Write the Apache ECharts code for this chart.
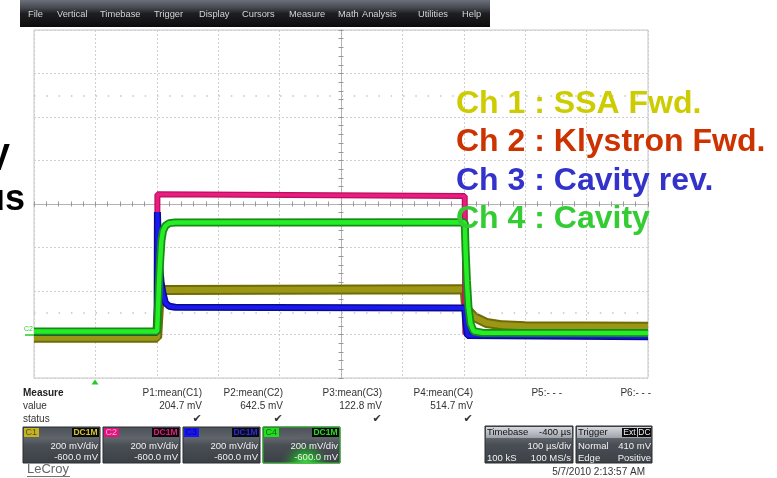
<!DOCTYPE html>
<html><head><meta charset="utf-8">
<script src="https://cdn.jsdelivr.net/npm/echarts@6/dist/echarts.min.js"></script>
<style>html,body{margin:0;padding:0;background:#fff}#c{width:777px;height:478px}</style>
</head><body><div id="c"></div>
<script>
// ---------- DATA (time in µs across 10 div of 100 µs, value in mV) ----------
const menuItems = ['File','Vertical','Timebase','Trigger','Display','Cursors','Measure','Math','Analysis','Utilities','Help'];
const legendLabels = ['Ch 1 : SSA Fwd.','Ch 2 : Klystron Fwd.','Ch 3 : Cavity rev.','Ch 4 : Cavity'];
const sideLabels = ['mV','us'];
const measureNames = ['P1:mean(C1)','P2:mean(C2)','P3:mean(C3)','P4:mean(C4)','P5:- - -','P6:- - -'];
const measureValues = ['204.7 mV','642.5 mV','122.8 mV','514.7 mV','',''];
const measureStatus = ['✔','✔','✔','✔','',''];
const channelNames = ['C1','C2','C3','C4'];
const channelCoupling = ['DC1M','DC1M','DC1M','DC1M'];
const channelScale = ['200 mV/div','200 mV/div','200 mV/div','200 mV/div'];
const channelOffset = ['-600.0 mV','-600.0 mV','-600.0 mV','-600.0 mV'];
const timebaseInfo = ['Timebase','-400 µs','100 µs/div','100 kS','100 MS/s'];
const triggerInfo = ['Trigger','Ext','DC','Normal','410 mV','Edge','Positive'];
const timestamp = '5/7/2010 2:13:57 AM';
const brand = 'LeCroy';
const cursorLevels = [1100, 100];

// Ch 1 : SSA forward
const ch1 = [[0,-15],[200.5,-15],[202,60],[203.5,130],[205,175],[208,198],[212,205],[701.5,208],[703,150],[706,113],[717,80],[737,53],[763,42],[800,38],[1000,36]];
// Ch 2 : Klystron forward
const ch2 = [[0,12],[200.5,12],[201,645],[701.5,637],[702.5,5],[1000,5]];
// Ch 3 : Cavity reverse
const ch3 = [[0,10],[200.5,10],[201,563],[202.5,420],[204.5,320],[207,240],[210,190],[214,145],[220,130],[230,125],[701.5,122],[703,60],[706,-5],[1000,-10]];
// Ch 4 : Cavity
const ch4 = [[0,14],[200.5,14],[202,120],[204,260],[205.5,340],[207.5,430],[210,475],[214,500],[220,512],[230,515],[701.5,516],[703,380],[705,250],[707.5,130],[711,50],[716,15],[730,8],[1000,7]];

// ---------- CHART ----------
const chart = echarts.init(document.getElementById('c'), null, {renderer:'canvas'});
const F = '"Liberation Sans", Arial, sans-serif';

function band(name, data, oc, ow, ic, iw, z) {
  return [
    {name:name, type:'line', data:data, xAxisIndex:0, yAxisIndex:0, symbol:'none', z:z, silent:true,
     lineStyle:{color:oc, width:ow, join:'bevel', cap:'butt'}},
    {name:name+' core', type:'line', data:data, xAxisIndex:0, yAxisIndex:0, symbol:'none', z:z, silent:true,
     lineStyle:{color:ic, width:iw, join:'bevel', cap:'butt'}}
  ];
}

const series = [].concat(
  band('C1', ch1, '#6f6b05', 10, '#9c9616', 6, 3),
  band('C2', ch2, '#b8105a', 6, '#ea1c82', 3.5, 4),
  band('C3', ch3, '#0a0a90', 7, '#1a1af0', 4, 5),
  band('C4', ch4, '#178a17', 8, '#26ee26', 4.5, 6)
);
series[0].markLine = {silent:true, symbol:'none', label:{show:false},
  lineStyle:{color:'#c4c4c4', width:1.5, type:[1.5,10.8]},
  data: cursorLevels.map(v => ({yAxis:v}))};

const g = [];
function T(x,y,text,o){ o=o||{}; return {type:'text', x:x, y:y, z:o.z||60, silent:true,
  style:{text:text, fill:o.fill||'#222', font:o.font||('10px '+F), align:o.align||'left', verticalAlign:'middle',
         textAlign:o.align||'left', textVerticalAlign:'middle'}}; }
function R(x,y,w,h,fill,o){ o=o||{}; return {type:'rect', z:o.z||55, silent:true, shape:{x:x,y:y,width:w,height:h,r:o.r||0},
  style:{fill:fill, stroke:o.stroke||null, lineWidth:o.lw||1}}; }
function L(x1,y1,x2,y2,c,w,z){ return {type:'line', z:z||55, silent:true, shape:{x1:x1,y1:y1,x2:x2,y2:y2}, style:{stroke:c, lineWidth:w||1}}; }
function lin(stops){ return {type:'linear', x:0, y:0, x2:0, y2:1, colorStops:stops.map(s=>({offset:s[0], color:s[1]}))}; }

// menu bar
g.push(R(20,0,470,27, lin([[0,'#6c707a'],[0.3,'#44474e'],[0.5,'#1e1f22'],[1,'#0c0c0c']])));
const menuX = [28,57,100,154,199,242,289,338,362,418,462];
menuItems.forEach((m,i)=>g.push(T(menuX[i],14.5,m,{fill:'#d4d4d4', font:'9.3px '+F})));

// cut-off side text
g.push(T(10,160,sideLabels[0],{fill:'#000', font:'bold 36px '+F, align:'right'}));
g.push(T(25,200.5,sideLabels[1],{fill:'#000', font:'bold 36px '+F, align:'right'}));

// legend text over plot
const legendColors = ['#cccc00','#cc3300','#3333cc','#33cc33'];
const legendY = [104,142.5,181,219.5];
legendLabels.forEach((s,i)=>g.push(T(456,legendY[i],s,{fill:legendColors[i], font:'bold 32px '+F, z:100})));

// ground marker and trigger arrow
g.push(T(24,329,'C2',{fill:'#33cc33', font:'7px '+F}));
g.push(L(25,335,34,335,'#22cc22',1.5));
g.push({type:'polygon', z:60, silent:true, shape:{points:[[95,379.5],[91.5,384.5],[98.5,384.5]]}, style:{fill:'#22cc22'}});

// measure table
g.push(T(23,393,'Measure',{font:'bold 10px '+F, fill:'#222'}));
g.push(T(23,406,'value',{fill:'#333'}));
g.push(T(23,419,'status',{fill:'#333'}));
const measX = [202,283,382,473,562,651];
measureNames.forEach((s,i)=>{
  g.push(T(measX[i],393,s,{align:'right', fill:'#333'}));
  if (measureValues[i]) g.push(T(measX[i],406,measureValues[i],{align:'right', fill:'#333'}));
  if (measureStatus[i]) g.push(T(measX[i]-5,419,measureStatus[i],{align:'center', fill:'#333', font:'11px "DejaVu Sans"'}));
});

// channel boxes
const boxX = [23,103,183,263];
const badgeFill = ['#c2b424','#e0147c','#1818ee','#22dd22'];
const badgeText = ['#5c5400','#ffb0d8','#00008a','#0a6a0a'];
const couplingText = ['#d4c430','#e8187e','#2828ee','#22dd22'];
const boxGrad = lin([[0,'#4b4f56'],[0.32,'#60646b'],[0.5,'#4a4e55'],[1,'#3b3f46']]);
channelNames.forEach((c,i)=>{
  const x = boxX[i];
  g.push(R(x,427,77,36, boxGrad, {stroke:'#2a2c30'}));
  if (i===3) {
    g.push({type:'rect', z:56, silent:true, shape:{x:x,y:427,width:77,height:36},
      style:{fill:{type:'radial', x:0.55, y:1.05, r:0.75, colorStops:[{offset:0,color:'#44f044'},{offset:0.45,color:'rgba(34,170,40,0.75)'},{offset:1,color:'rgba(60,64,70,0)'}]},
             stroke:'#33cc33', lineWidth:1}});
  }
  g.push(R(x+1,428,15,9, badgeFill[i], {z:57}));
  g.push(T(x+2.5,432.5,c,{fill:badgeText[i], font:'9px '+F}));
  g.push(R(x+49,428,27,9, '#0a0a0a', {z:57}));
  g.push(T(x+62.5,432.5,channelCoupling[i],{fill:couplingText[i], font:'bold 8.5px '+F, align:'center'}));
  g.push(T(x+75,446,channelScale[i],{fill:'#f2f2f2', font:'9.5px '+F, align:'right'}));
  g.push(T(x+75,457.5,channelOffset[i],{fill:'#f2f2f2', font:'9.5px '+F, align:'right'}));
});

// timebase box
g.push(R(485,426,88,37, boxGrad, {stroke:'#2a2c30'}));
g.push(R(486,427,86,11, lin([[0,'#d6d8de'],[1,'#9ea2aa']]), {z:56}));
g.push(T(487,432.5,timebaseInfo[0],{fill:'#111', font:'9.5px '+F}));
g.push(T(571,432.5,timebaseInfo[1],{fill:'#111', font:'9.5px '+F, align:'right'}));
g.push(T(571,446,timebaseInfo[2],{fill:'#f2f2f2', font:'9.5px '+F, align:'right'}));
g.push(T(487,458,timebaseInfo[3],{fill:'#f2f2f2', font:'9.5px '+F}));
g.push(T(571,458,timebaseInfo[4],{fill:'#f2f2f2', font:'9.5px '+F, align:'right'}));

// trigger box
g.push(R(576,426,76,37, boxGrad, {stroke:'#2a2c30'}));
g.push(R(577,427,74,11, lin([[0,'#d6d8de'],[1,'#9ea2aa']]), {z:56}));
g.push(T(578,432.5,triggerInfo[0],{fill:'#111', font:'9.5px '+F}));
g.push(R(622,428,15,9,'#0a0a0a',{z:57}));
g.push(T(629.5,432.5,triggerInfo[1],{fill:'#f0f0f0', font:'8.5px '+F, align:'center'}));
g.push(R(638,428,13,9,'#0a0a0a',{z:57}));
g.push(T(644.5,432.5,triggerInfo[2],{fill:'#f0f0f0', font:'8.5px '+F, align:'center'}));
g.push(T(578,446,triggerInfo[3],{fill:'#f2f2f2', font:'9.5px '+F}));
g.push(T(651,446,triggerInfo[4],{fill:'#f2f2f2', font:'9.5px '+F, align:'right'}));
g.push(T(578,458,triggerInfo[5],{fill:'#f2f2f2', font:'9.5px '+F}));
g.push(T(651,458,triggerInfo[6],{fill:'#f2f2f2', font:'9.5px '+F, align:'right'}));

// timestamp and brand
g.push(T(645,472,timestamp,{align:'right', fill:'#333'}));
g.push(T(27,469.5,brand,{fill:'#666', font:'13px '+F}));
g.push(L(27,476.5,70,476.5,'#777',1));

const dotted = {color:'#cfcfcf', width:1, type:[2,2]};
const option = {
  backgroundColor:'#ffffff',
  animation:false,
  grid:{left:34, top:30, width:614, height:348, show:true, borderColor:'#c6c6c6', borderWidth:1, backgroundColor:'#fff', containLabel:false, outerBoundsMode:'none'},
  xAxis:[
    {type:'value', min:0, max:1000, interval:100, position:'bottom',
     axisLine:{show:true, onZero:true, onZeroAxisIndex:1, lineStyle:{color:'#b4b4b4', width:1}},
     axisTick:{show:true, inside:true, length:2.5, lineStyle:{color:'#999'}},
     minorTick:{show:true, splitNumber:5, length:2.5, lineStyle:{color:'#999'}},
     axisLabel:{show:false}, splitLine:{show:true, lineStyle:dotted}},
    {type:'value', min:-500, max:500, interval:100, position:'top',
     axisLine:{show:true, onZero:true, onZeroAxisIndex:1, lineStyle:{color:'#b4b4b4', width:1}},
     axisTick:{show:true, inside:true, length:2.5, lineStyle:{color:'#999'}},
     minorTick:{show:true, splitNumber:5, length:2.5, lineStyle:{color:'#999'}},
     axisLabel:{show:false}, splitLine:{show:false}}
  ],
  yAxis:[
    {type:'value', min:-200, max:1400, interval:200, position:'left',
     axisLine:{show:true, onZero:true, onZeroAxisIndex:1, lineStyle:{color:'#b4b4b4', width:1}},
     axisTick:{show:true, inside:true, length:2.5, lineStyle:{color:'#999'}},
     minorTick:{show:true, splitNumber:5, length:2.5, lineStyle:{color:'#999'}},
     axisLabel:{show:false}, splitLine:{show:true, lineStyle:dotted}},
    {type:'value', min:-800, max:800, interval:200, position:'right',
     axisLine:{show:true, onZero:true, onZeroAxisIndex:1, lineStyle:{color:'#b4b4b4', width:1}},
     axisTick:{show:true, inside:true, length:2.5, lineStyle:{color:'#999'}},
     minorTick:{show:true, splitNumber:5, length:2.5, lineStyle:{color:'#999'}},
     axisLabel:{show:false}, splitLine:{show:false}}
  ],
  series: series,
  graphic: g
};
chart.setOption(option);
</script></body></html>
